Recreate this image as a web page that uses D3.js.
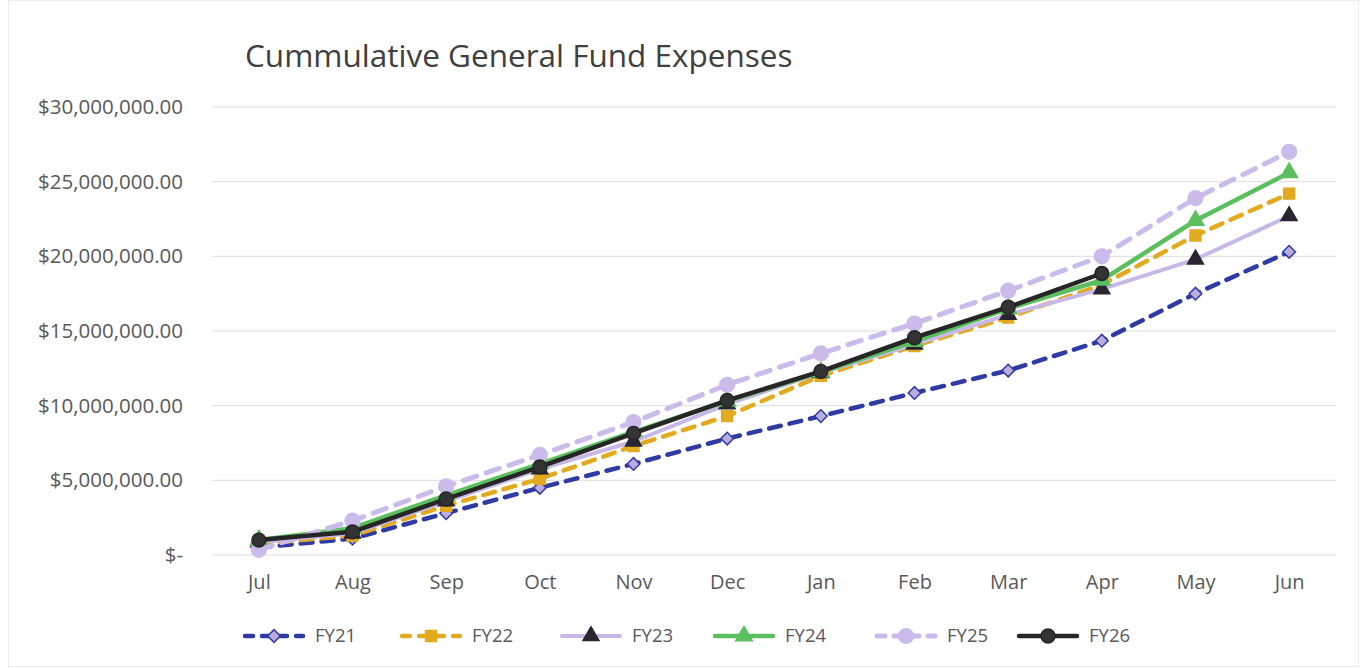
<!DOCTYPE html>
<html>
<head>
<meta charset="utf-8">
<script src="https://cdn.jsdelivr.net/npm/d3@7"></script>
<style>
  body { margin: 0; background: #fff; }
  svg text { font-family: "Open Sans", "Noto Sans", sans-serif; fill: #595959; }
</style>
</head>
<body>
<script>
// months on the x axis
var months = ["Jul","Aug","Sep","Oct","Nov","Dec","Jan","Feb","Mar","Apr","May","Jun"];
var seriesNames = ["FY21","FY22","FY23","FY24","FY25","FY26"];

// cumulative expenses (dollars)
var fy21 = [500000, 1100000, 2800000, 4500000, 6100000, 7800000, 9300000, 10850000, 12350000, 14350000, 17500000, 20300000];
var fy22 = [750000, 1300000, 3300000, 5100000, 7300000, 9300000, 12000000, 14000000, 15900000, 18100000, 21400000, 24200000];
var fy23 = [850000, 1450000, 3600000, 5750000, 7600000, 10100000, 12200000, 14100000, 16100000, 17800000, 19800000, 22700000];
var fy24 = [1000000, 1800000, 4000000, 6100000, 8250000, 10300000, 12250000, 14300000, 16500000, 18400000, 22400000, 25600000];
var fy25 = [350000, 2300000, 4600000, 6700000, 8900000, 11400000, 13500000, 15500000, 17700000, 20000000, 23900000, 27000000];
var fy26 = [1000000, 1550000, 3750000, 5900000, 8150000, 10350000, 12300000, 14550000, 16600000, 18850000, null, null];

var yTicks = [0, 5000000, 10000000, 15000000, 20000000, 25000000, 30000000];

var allValues = [fy21, fy22, fy23, fy24, fy25, fy26];

// look of each series
var styles = [
  {color: "#2f3ba3", dash: "12,9", width: 4.5, marker: "diamond", fill: "#b9acdf", stroke: "#2f3ba3", size: 80, rot: 45},
  {color: "#e2aa1e", dash: "12,9", width: 4.5, marker: "square", fill: "#e2aa1e", stroke: "#e2aa1e", size: 120, rot: 0},
  {color: "#c8b8e8", dash: null, width: 4, marker: "triangle", fill: "#2a2530", stroke: "#2a2530", size: 110, rot: 0},
  {color: "#5cbf5f", dash: null, width: 4.5, marker: "triangle", fill: "#5cbf5f", stroke: "#5cbf5f", size: 120, rot: 0},
  {color: "#cbbbea", dash: "14,10", width: 5, marker: "circle", fill: "#cbbbea", stroke: "#cbbbea", size: 170, rot: 0},
  {color: "#262626", dash: null, width: 4.5, marker: "circle", fill: "#333333", stroke: "#262626", size: 150, rot: 0}
];

var W = 1364, H = 668;
var margin = {top: 107, right: 28, bottom: 113, left: 212},
    width = W - margin.left - margin.right,
    height = H - margin.top - margin.bottom;

var svg = d3.select("body").append("svg")
    .attr("width", W)
    .attr("height", H);

// chart border
svg.append("rect")
    .attr("x", 8.5).attr("y", 0.5)
    .attr("width", 1350).attr("height", 666)
    .attr("fill", "#fff")
    .attr("stroke", "#ececec");

svg.append("text")
    .attr("x", 245)
    .attr("y", 67)
    .style("font-size", "31.5px")
    .style("fill", "#404040")
    .text("Cummulative General Fund Expenses");

var g = svg.append("g")
    .attr("transform", "translate(" + margin.left + "," + margin.top + ")");

var xScale = d3.scalePoint().domain(months).range([0, width]).padding(0.5);
var yScale = d3.scaleLinear().domain([0, 30000000]).range([height, 0]);

var fmt = function(v) {
  if (v === 0) return "$-";
  return "$" + d3.format(",.2f")(v);
};

// gridlines
g.selectAll(".grid")
    .data(yTicks)
  .enter().append("line")
    .attr("x1", 0).attr("x2", width)
    .attr("y1", function(d) { return yScale(d); })
    .attr("y2", function(d) { return yScale(d); })
    .attr("stroke", "#dcdcdc")
    .attr("stroke-width", 1);

// y axis
var yAxis = d3.axisLeft(yScale).tickValues(yTicks).tickFormat(fmt).tickSize(0).tickPadding(29);
var yg = g.append("g").call(yAxis);
yg.select(".domain").remove();
yg.selectAll("text").style("font-size", "20.5px");

// x axis
var xAxis = d3.axisBottom(xScale).tickSize(0).tickPadding(20);
var xg = g.append("g").attr("transform", "translate(0," + height + ")").call(xAxis);
xg.select(".domain").remove();
xg.selectAll("text").style("font-size", "20px");

var symbolTypes = {
  diamond: d3.symbolSquare,
  square: d3.symbolSquare,
  triangle: d3.symbolTriangle,
  circle: d3.symbolCircle
};

var line = d3.line()
    .defined(function(d) { return d.v != null; })
    .x(function(d) { return xScale(d.m); })
    .y(function(d) { return yScale(d.v); });

allValues.forEach(function(vals, i) {
  var st = styles[i];
  var pts = vals.map(function(v, j) { return {m: months[j], v: v}; });
  g.append("path")
      .attr("d", line(pts))
      .attr("fill", "none")
      .attr("stroke", st.color)
      .attr("stroke-width", st.width)
      .attr("stroke-dasharray", st.dash)
      .attr("stroke-linecap", "round")
      .attr("stroke-linejoin", "round");
  g.selectAll(".m" + i)
      .data(pts.filter(function(d) { return d.v != null; }))
    .enter().append("path")
      .attr("transform", function(d) { return "translate(" + xScale(d.m) + "," + yScale(d.v) + ") rotate(" + st.rot + ")"; })
      .attr("d", d3.symbol().type(symbolTypes[st.marker]).size(st.size))
      .attr("fill", st.fill)
      .attr("stroke", st.stroke)
      .attr("stroke-width", 1.5);
});

// legend
var legendX = [243, 400, 560, 713, 875, 1017];
var legend = svg.append("g").attr("transform", "translate(0,636)");
seriesNames.forEach(function(name, i) {
  var st = styles[i];
  var lg = legend.append("g").attr("transform", "translate(" + legendX[i] + ",0)");
  lg.append("line")
      .attr("x1", 2).attr("x2", 60)
      .attr("stroke", st.color)
      .attr("stroke-width", st.width)
      .attr("stroke-dasharray", st.dash ? "8,9" : null)
      .attr("stroke-linecap", "round");
  lg.append("path")
      .attr("transform", "translate(31,0) rotate(" + st.rot + ")")
      .attr("d", d3.symbol().type(symbolTypes[st.marker]).size(st.size))
      .attr("fill", st.fill)
      .attr("stroke", st.stroke)
      .attr("stroke-width", 1.5);
  lg.append("text")
      .attr("x", 72)
      .attr("y", 0)
      .attr("dy", "0.35em")
      .style("font-size", "18.5px")
      .text(name);
});
</script>
</body>
</html>
